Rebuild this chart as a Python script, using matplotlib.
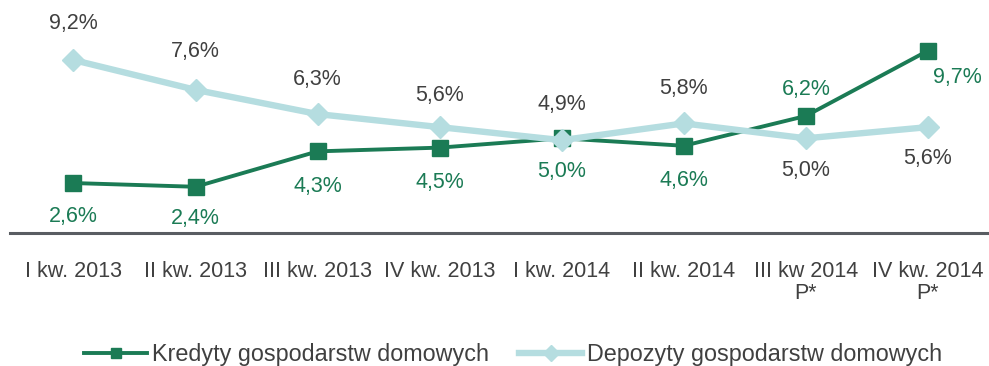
import matplotlib
matplotlib.use("Agg")
import matplotlib.pyplot as plt

plt.rcParams['font.family'] = ['Liberation Sans', 'DejaVu Sans']

quarters = ["I kw. 2013", "II kw. 2013", "III kw. 2013", "IV kw. 2013",
            "I kw. 2014", "II kw. 2014", "III kw 2014\nP*", "IV kw. 2014\nP*"]
kredyty = [2.6, 2.4, 4.3, 4.5, 5.0, 4.6, 6.2, 9.7]
depozyty = [9.2, 7.6, 6.3, 5.6, 4.9, 5.8, 5.0, 5.6]

# label placement per point (pixel offsets from the marker)
kred_offsets = [(0, -33), (0, -32), (0, -35), (0, -35), (0, -33), (0, -35), (0, 26), (29, -27)]
depo_offsets = [(0, 37), (0, 38), (0, 35), (0, 32), (0, 36), (0, 35), (0, -32), (0, -31)]

GREEN = "#1b7b55"
LIGHT = "#b5dde0"
TEXT = "#404040"
AXIS = "#595d62"

fig = plt.figure(figsize=(9.89, 3.66), dpi=100)
ax = fig.add_axes([10 / 989, 133 / 366, 979 / 989, 233 / 366])

x = list(range(len(quarters)))
ax.plot(x, kredyty, color=GREEN, lw=2.8, marker="s", ms=11, mec=GREEN,
        label="Kredyty gospodarstw domowych", zorder=3)
ax.plot(x, depozyty, color=LIGHT, lw=4.6, marker="D", ms=11, mec=LIGHT,
        label="Depozyty gospodarstw domowych", zorder=4)

for xi, v, (dx, dy) in zip(x, kredyty, kred_offsets):
    ax.annotate(f"{v:.1f}%".replace(".", ","), (xi, v), xytext=(dx, dy),
                textcoords="offset pixels", ha="center", va="center",
                fontsize=15.5, color=GREEN)
for xi, v, (dx, dy) in zip(x, depozyty, depo_offsets):
    ax.annotate(f"{v:.1f}%".replace(".", ","), (xi, v), xytext=(dx, dy),
                textcoords="offset pixels", ha="center", va="center",
                fontsize=15.5, color=TEXT)

for s in ["top", "right", "left"]:
    ax.spines[s].set_visible(False)
ax.spines["bottom"].set_position(("axes", 0.0))
ax.spines["bottom"].set_color(AXIS)
ax.spines["bottom"].set_linewidth(2.2)

ax.set_xlim(-0.52, 7.5)
ax.set_ylim(-0.08, 12.42)
ax.set_yticks([])
ax.set_xticks(x)
ax.set_xticklabels(quarters, fontsize=15.5, color=TEXT, linespacing=1.05)
ax.tick_params(axis="x", length=0, pad=20)

fig.legend(loc="center", bbox_to_anchor=(0.519, 0.032), ncol=2, frameon=False,
           fontsize=16.8, labelcolor=TEXT, handlelength=2.7, handletextpad=0.2,
           columnspacing=1.3, markerscale=0.7)

fig.savefig("out.png", dpi=100)
